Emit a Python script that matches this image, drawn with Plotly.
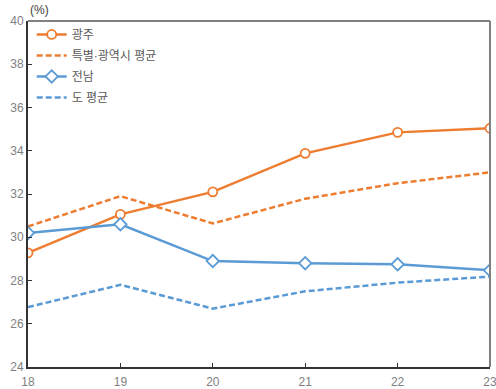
import plotly.graph_objects as go

# Years (20xx) on the x axis
years = [18, 19, 20, 21, 22, 23]

# Shares in percent
gwangju = [29.28, 31.06, 32.1, 33.88, 34.85, 35.04]
metro_avg = [30.5, 31.9, 30.64, 31.78, 32.5, 33.0]
jeonnam = [30.2, 30.6, 28.9, 28.8, 28.75, 28.47]
province_avg = [26.77, 27.8, 26.7, 27.5, 27.9, 28.18]

y_ticks = [24, 26, 28, 30, 32, 34, 36, 38, 40]

ORANGE = "#ED7D31"
BLUE = "#5B9BD5"
FONT = "Liberation Sans, Arial, Noto Sans CJK KR, sans-serif"

fig = go.Figure()
fig.add_trace(go.Scatter(
    x=years, y=gwangju, name="광주", mode="lines+markers", legendgroup="a",
    line=dict(color=ORANGE, width=2.5),
    marker=dict(symbol="circle", size=9, color="white",
                line=dict(color=ORANGE, width=1.8)),
))
fig.add_trace(go.Scatter(
    x=years, y=metro_avg, name="특별·광역시 평균", mode="lines", legendgroup="b",
    line=dict(color=ORANGE, width=2.5, dash="6px,3px"),
))
fig.add_trace(go.Scatter(
    x=years, y=jeonnam, name="전남", mode="lines+markers", legendgroup="c",
    line=dict(color=BLUE, width=2.5),
    marker=dict(symbol="diamond", size=9.5, color="white",
                line=dict(color=BLUE, width=1.8)),
))
fig.add_trace(go.Scatter(
    x=years, y=province_avg, name="도 평균", mode="lines", legendgroup="d",
    line=dict(color=BLUE, width=2.5, dash="6px,3px"),
))

fig.update_layout(
    width=496, height=389,
    margin=dict(l=28, r=6, t=21, b=22),
    paper_bgcolor="white", plot_bgcolor="white",
    font=dict(family=FONT, size=12, color="#7f7f7f"),
    showlegend=True,
    legend=dict(
        x=0.008, y=1.003, xanchor="left", yanchor="top",
        bgcolor="rgba(0,0,0,0)", font=dict(size=12, color="#595959"),
        itemwidth=30, tracegroupgap=2,
    ),
    xaxis=dict(
        range=[18, 23], tickvals=years, ticktext=[str(v) for v in years],
        showgrid=False, zeroline=False, automargin=False,
        showline=True, linecolor="#333333", linewidth=2,
        ticks="inside", ticklen=4, tickcolor="#333333", tickwidth=1,
        tickfont=dict(size=12, color="#7f7f7f"),
        ticklabeloverflow="allow", ticklabelstandoff=3,
    ),
    yaxis=dict(
        range=[24, 40], tickvals=y_ticks,
        showgrid=False, zeroline=False, automargin=False,
        showline=True, linecolor="#333333", linewidth=2,
        ticks="inside", ticklen=4, tickcolor="#333333", tickwidth=1,
        tickfont=dict(size=12, color="#7f7f7f"),
    ),
    shapes=[
        dict(type="line", xref="paper", yref="paper", x0=0, x1=1, y0=1, y1=1,
             line=dict(color="#808080", width=2)),
        dict(type="line", xref="paper", yref="paper", x0=1, x1=1, y0=0, y1=1,
             line=dict(color="#808080", width=2)),
    ],
    annotations=[
        dict(text="(%)", xref="paper", yref="paper", x=0, y=1,
             xanchor="left", yanchor="bottom", yshift=2, showarrow=False,
             font=dict(size=12, color="#404040")),
    ],
)

fig.write_html("out.html")
